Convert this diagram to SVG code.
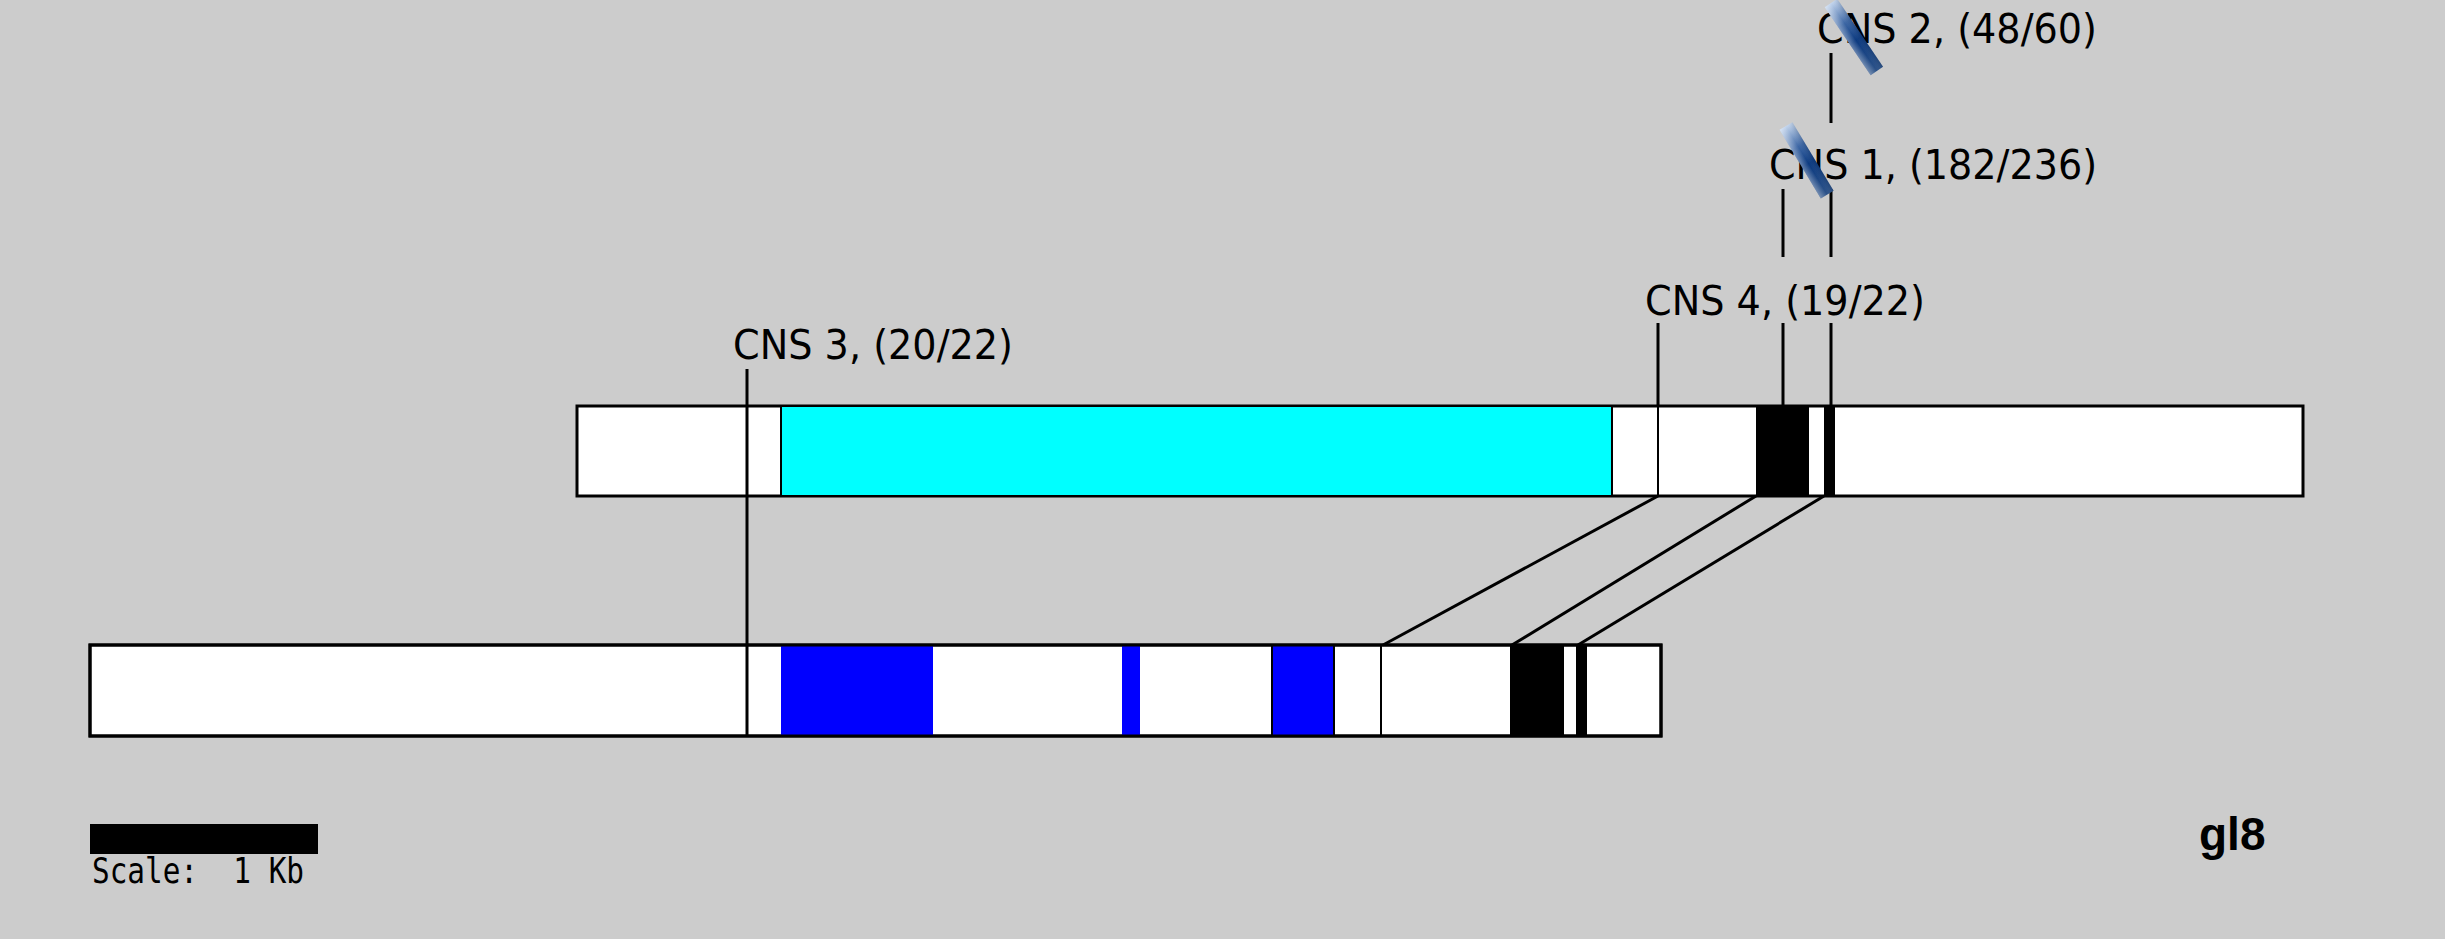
<svg xmlns="http://www.w3.org/2000/svg" width="2445" height="939" viewBox="0 0 2445 939">
<style>
.bar{fill:#ffffff;stroke:#000;stroke-width:3}
.seg{stroke:#000;stroke-width:2}
.ln{stroke:#000;stroke-width:3;fill:none}
.lbl{font-family:"DejaVu Sans","Liberation Sans",sans-serif;font-size:40px;fill:#000}
.scale{font-family:"DejaVu Sans Mono","Liberation Mono",monospace;font-size:36px;fill:#000;white-space:pre}
.title{font-family:"Liberation Sans",Arial,sans-serif;font-weight:bold;font-size:46px;fill:#000}
</style>
<defs>
<linearGradient id="slash" x1="0" y1="0" x2="0" y2="1">
<stop offset="0" stop-color="#c4d6ee"/>
<stop offset="0.3" stop-color="#3c66a4"/>
<stop offset="0.55" stop-color="#0c3a80"/>
<stop offset="1" stop-color="#2c5288"/>
</linearGradient>
<linearGradient id="sheen" x1="0" y1="0" x2="1" y2="0">
<stop offset="0" stop-color="#ffffff" stop-opacity="0.35"/>
<stop offset="0.5" stop-color="#ffffff" stop-opacity="0"/>
<stop offset="1" stop-color="#000000" stop-opacity="0.1"/>
</linearGradient>
</defs>
<rect x="0" y="0" width="2445" height="939" fill="#cccccc"/>

<g id="gene-top">
<rect class="bar" x="577" y="406" width="1726" height="90"/>
<rect x="781" y="406" width="831" height="90" fill="#00ffff" class="seg"/>
<rect x="1756" y="406" width="53" height="90" fill="#000"/>
<rect x="1824" y="406" width="11" height="90" fill="#000"/>
<line class="seg" x1="1658" y1="406" x2="1658" y2="496"/>
</g>

<g id="gene-bottom">
<rect class="bar" x="90" y="645" width="1571" height="91"/>
<rect x="781" y="645" width="152" height="91" fill="#0000ff"/>
<rect x="1122" y="645" width="18" height="91" fill="#0000ff"/>
<rect x="1272" y="645" width="62" height="91" fill="#0000ff" class="seg"/>
<line class="seg" x1="1381" y1="645" x2="1381" y2="736"/>
<rect x="1510" y="645" width="54" height="91" fill="#000"/>
<rect x="1576" y="645" width="11" height="91" fill="#000"/>
<rect class="bar" x="90" y="645" width="1571" height="91" style="fill:none"/>
</g>

<g id="connectors">
<line class="ln" x1="747" y1="369" x2="747" y2="736"/>
<line class="ln" x1="1831" y1="53" x2="1831" y2="123"/>
<line class="ln" x1="1783" y1="189" x2="1783" y2="257"/>
<line class="ln" x1="1831" y1="189" x2="1831" y2="257"/>
<line class="ln" x1="1658" y1="323" x2="1658" y2="406"/>
<line class="ln" x1="1783" y1="323" x2="1783" y2="406"/>
<line class="ln" x1="1831" y1="323" x2="1831" y2="406"/>
<line class="ln" x1="1658" y1="496" x2="1383" y2="645"/>
<line class="ln" x1="1756" y1="496" x2="1512" y2="645"/>
<line class="ln" x1="1824" y1="496" x2="1578" y2="645"/>
</g>

<g id="label-cns3"><text class="lbl" x="733" y="359" textLength="280" lengthAdjust="spacingAndGlyphs">CNS 3, (20/22)</text></g>
<g id="label-cns4"><text class="lbl" x="1645" y="315" textLength="280" lengthAdjust="spacingAndGlyphs">CNS 4, (19/22)</text></g>
<g id="label-cns1"><text class="lbl" x="1769" y="179" textLength="328" lengthAdjust="spacingAndGlyphs">CNS 1, (182/236)</text></g>
<g id="label-cns2"><text class="lbl" x="1817" y="43" textLength="280" lengthAdjust="spacingAndGlyphs">CNS 2, (48/60)</text></g>

<g id="slashes">
<g transform="translate(1831,3) rotate(-34)">
<rect x="-7.5" y="0" width="15" height="82" fill="url(#slash)"/>
<rect x="-7.5" y="0" width="15" height="82" fill="url(#sheen)"/>
</g>
<g transform="translate(1786,126) rotate(-31)">
<rect x="-7.5" y="0" width="15" height="80" fill="url(#slash)"/>
<rect x="-7.5" y="0" width="15" height="80" fill="url(#sheen)"/>
</g>
</g>

<g id="scale">
<rect x="90" y="824" width="228" height="30" fill="#000"/>
<text class="scale" x="92" y="883" xml:space="preserve" textLength="212" lengthAdjust="spacingAndGlyphs">Scale:  1 Kb</text>
</g>

<g id="title"><text class="title" x="2199" y="850">gl8</text></g>
</svg>
